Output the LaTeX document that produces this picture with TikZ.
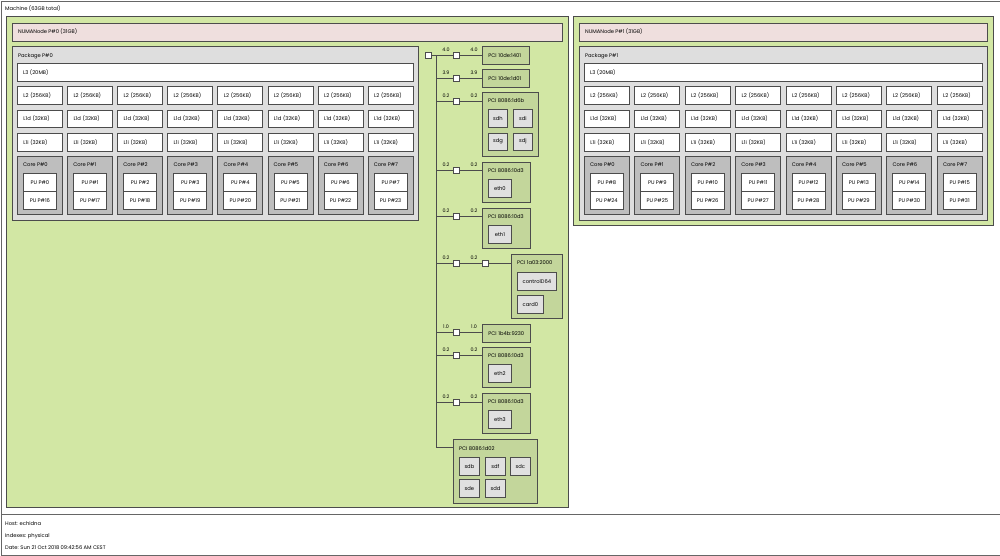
\documentclass[tikz,border=0pt]{standalone}
\usepackage{fontspec}
\setmainfont{Poppins}
\usepackage{xcolor}
\definecolor{grpgreen}{HTML}{D2E7A4}
\definecolor{numapink}{HTML}{EFDFDE}
\definecolor{pkggray}{HTML}{DEDEDE}
\definecolor{coregray}{HTML}{BEBEBE}
\definecolor{pcigreen}{HTML}{C3D69B}
\definecolor{osgray}{HTML}{E0E0E0}

\begin{document}
\begin{tikzpicture}[
					x=1pt,y=-1pt,
					font=\fontsize{5.2}{6}\selectfont,
					box/.style={draw=black!70,line width=0.8pt,anchor=north west,inner sep=0pt},
					cache/.style={box,fill=white,text width=33pt,inner xsep=6pt,minimum height=17.5pt},
					pu/.style={box,fill=white,minimum width=33,minimum height=18},
					osdev/.style={box,fill=osgray,minimum width=20,minimum height=17.5},
					pcione/.style={box,fill=pcigreen,inner xsep=6pt,minimum height=17.5pt},
					txt/.style={anchor=west,inner sep=0pt},
					bridge/.style={draw=black!70,fill=white,line width=0.8pt,minimum size=6pt,inner sep=0pt},
					link/.style={draw=black!70,line width=0.8pt},
					speed/.style={inner sep=0pt,font=\fontsize{4.8}{5}\selectfont}
					]
					\useasboundingbox (0,0) rectangle (1000,555);
					\node[box,draw=black!60,fill=white,minimum width=999,minimum height=513.5] (machine) at (0.5,0.5) {};
					\node[txt] (machine-t) at (5,9) {Machine (63GB total)};
					\node[box,draw=black!60,fill=white,minimum width=999,minimum height=40.5] (legend) at (0.5,514) {};
					\node[txt] (host) at (5,524) {Host: echidna};
					\node[txt] (idx) at (5,536) {Indexes: physical};
					\node[txt] (date) at (5,548) {Date: Sun 21 Oct 2018 09:42:56 AM CEST};
					\node[box,fill=grpgreen,minimum width=562,minimum height=491] (grp0) at (6,16) {};
					\node[box,fill=grpgreen,minimum width=420,minimum height=209] (grp1) at (573,16) {};
					\foreach \p/\px/\nw/\pb/\pp/\pw in {0/12/550/0/50.1/406,1/579/408/8/50.4/408}{
						\node[box,fill=numapink,minimum width=\nw,minimum height=17.5] (numa\p) at (\px,23) {};
						\node[txt] at ([shift={(6,8.75)}]numa\p.north west) {NUMANode P\#\p\ (31GB)};
						\node[box,fill=pkggray,minimum width=\pw,minimum height=174] (pkg\p) at (\px,46) {};
						\node[txt] at ([shift={(6,10)}]pkg\p.north west) {Package P\#\p};
						\node[box,fill=white,minimum width=\pw-10,minimum height=17.5] (l3-\p) at (\px+5,63) {};
						\node[txt] at ([xshift=6pt]l3-\p.west) {L3 (20MB)};
						\foreach \c [evaluate=\c as \cx using \px+5+\pp*\c,
						             evaluate=\c as \ua using int(\pb+\c),
						             evaluate=\c as \ub using int(\pb+16+\c)] in {0,...,7}{
							\node[cache] (l2-\p-\c) at (\cx,86) {L2 (256KB)};
							\node[cache] (l1d-\p-\c) at (\cx,109.5) {L1d (32KB)};
							\node[cache] (l1i-\p-\c) at (\cx,133) {L1i (32KB)};
							\node[box,fill=coregray,minimum width=45,minimum height=58] (core-\p-\c) at (\cx,156) {};
							\node[txt] at ([shift={(6,9)}]core-\p-\c.north west) {Core P\#\c};
							\node[pu] (pu\ua) at ([shift={(6,17)}]core-\p-\c.north west) {PU P\#\ua};
							\node[pu] (pu\ub) at ([shift={(6,35)}]core-\p-\c.north west) {PU P\#\ub};
						}
					}
					\node[pcione,text width=35pt] (pci1) at (482,46) {PCI 10de:1401};
					\node[pcione,text width=35pt] (pci2) at (482,69) {PCI 10de:1d01};
					\node[box,fill=pcigreen,minimum width=56,minimum height=64] (pci3) at (482,92) {};
					\node[txt] at ([shift={(6,9)}]pci3.north west) {PCI 8086:1d6b};
					\foreach \d/\dx/\dy in {sdh/6/17,sdi/31/17,sdg/6/40.5,sdj/31/40.5}{
						\node[osdev,minimum width=19] (\d) at ([shift={(\dx,\dy)}]pci3.north west) {\d};
					}
					\foreach \i/\y/\e in {4/162/0,5/208/1,8/347/2,9/393/3}{
						\node[box,fill=pcigreen,minimum width=48,minimum height=40] (pci\i) at (482,\y) {};
						\node[txt] at ([shift={(6,9)}]pci\i.north west) {PCI 8086:10d3};
						\node[osdev,minimum width=23] (eth\e) at ([shift={(6,17)}]pci\i.north west) {eth\e};
					}
					\node[box,fill=pcigreen,minimum width=51,minimum height=64] (pci6) at (511,254) {};
					\node[txt] at ([shift={(6,9)}]pci6.north west) {PCI 1a03:2000};
					\node[osdev,minimum width=39] (ctl) at ([shift={(6,18)}]pci6.north west) {controlD64};
					\node[osdev,minimum width=26] (card0) at ([shift={(6,41)}]pci6.north west) {card0};
					\node[pcione,text width=36pt] (pci7) at (482,324) {PCI 1b4b:9230};
					\node[box,fill=pcigreen,minimum width=84,minimum height=64] (pci10) at (453,439) {};
					\node[txt] at ([shift={(6,10)}]pci10.north west) {PCI 8086:1d02};
					\foreach \d/\dx/\dy in {sdb/6/18,sdf/32/18,sdc/57/18,sde/6/40,sdd/32/40}{
						\node[osdev] (\d) at ([shift={(\dx,\dy)}]pci10.north west) {\d};
					}
					\node[bridge] (hb) at (428,55) {};
					\foreach \i/\y/\bw in {1/55/4.0,2/78/3.9,3/101/0.2,4/170/0.2,5/216/0.2,6/263/0.2,7/332/1.0,8/355/0.2,9/402/0.2}{
						\coordinate (t\i) at (436,\y);
						\node[bridge] (sq\i) at (456,\y) {};
						\node[speed] at ([shift={(-10,-5)}]sq\i) {\bw};
						\node[speed] at ([shift={(18,-5)}]sq\i) {\bw};
					}
					\node[bridge] (sq6b) at (485.5,263) {};
					\coordinate (t10) at (436,447);
					\draw[link] (hb) -- (sq1);
					\draw[link] (t1) -- (t10) -- (pci10.west |- t10);
					\foreach \i in {1,2,3,4,5,7,8,9}{
						\draw[link] (t\i) -- (sq\i) -- (sq\i -| pci\i.west);
					}
					\draw[link] (t6) -- (sq6) -- (sq6b) -- (sq6b -| pci6.west);
				\end{tikzpicture}
\end{document}
